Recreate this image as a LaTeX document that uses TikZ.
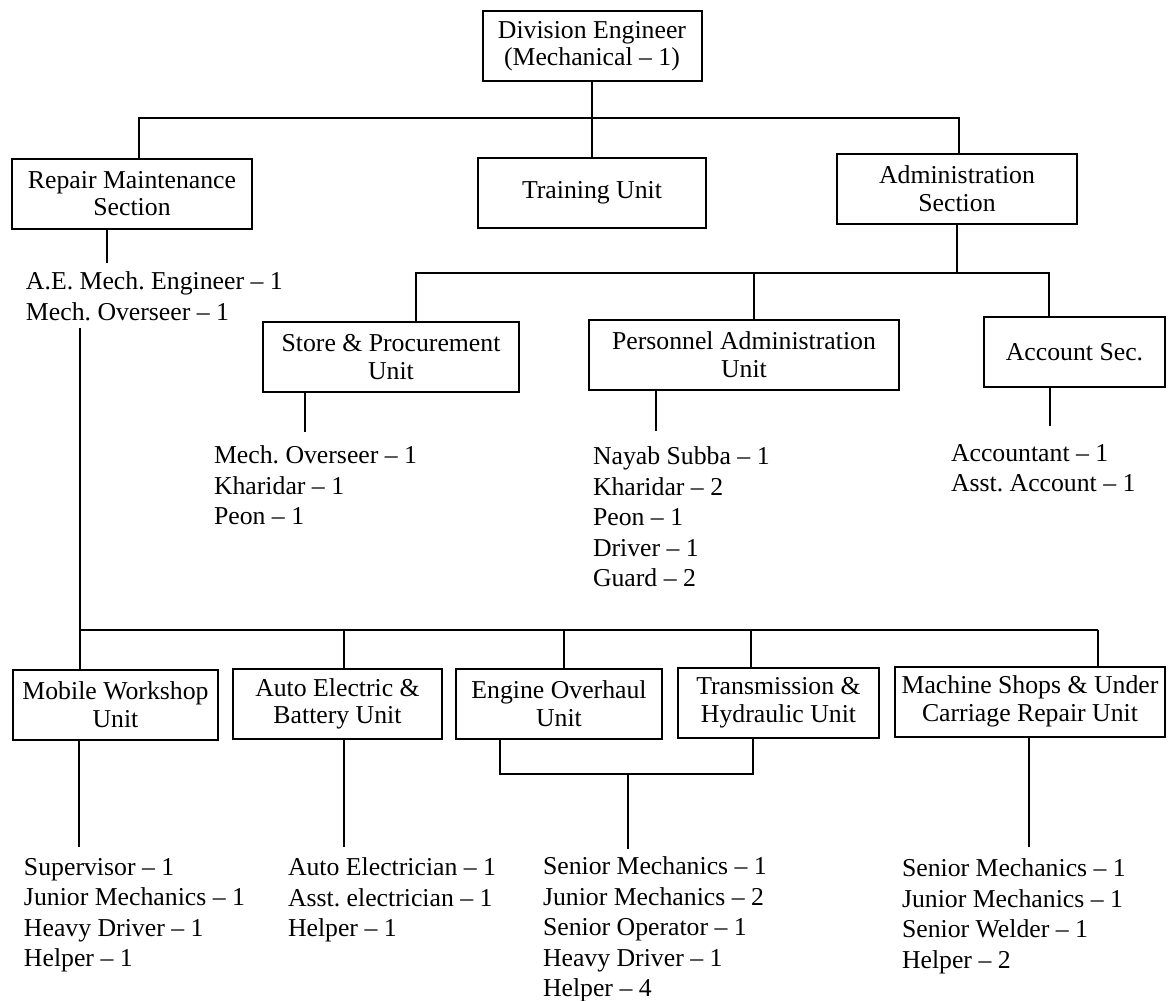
\documentclass[tikz,border=0pt]{standalone}
\usepackage{fontspec}
\setmainfont{Liberation Serif}
\frenchspacing

\newcommand{\boxfont}{\fontsize{10.3}{11}\selectfont}
\newcommand{\listfont}{\fontsize{10.3}{12.2}\selectfont}

\begin{document}
\begin{tikzpicture}[x=0.4pt,y=-0.4pt,thick,
    box/.style={draw,align=center,inner sep=2pt,minimum height=28pt,minimum width=#1,font=\boxfont},
    staff/.style={anchor=north west,align=left,inner sep=0pt,font=\listfont}]
    \useasboundingbox (0,0) rectangle (1169,1001);

    \node[box=87.6pt] (div_eng) at (592,46) {Division Engineer\\(Mechanical -- 1)};
    \node[box=96pt] (repair) at (132,193.5) {Repair Maintenance\\Section};
    \node[box=91.2pt] (training) at (592,192.5) {Training Unit};
    \node[box=96pt] (admin) at (957,188.5) {Administration\\Section};

    \node[box=102.4pt] (store) at (391,357) {Store \& Procurement\\Unit};
    \node[box=124pt] (personnel) at (744,354.5) {Personnel Administration\\Unit};
    \node[box=72.4pt] (account) at (1074.5,352) {Account Sec.};

    \node[box=82pt] (mobile) at (115.5,704.5) {Mobile Workshop\\Unit};
    \node[box=83.6pt] (autoel) at (337.5,704) {Auto Electric \&\\Battery Unit};
    \node[box=82.4pt] (engine) at (559,703.5) {Engine Overhaul\\Unit};
    \node[box=80.4pt] (trans) at (778.5,702.5) {Transmission \&\\Hydraulic Unit};
    \node[box=108pt] (machine) at (1030,701.5) {Machine Shops \& Under\\Carriage Repair Unit};

    \node[staff] (repair_staff) at (25,271) {A.E. Mech. Engineer -- 1\\Mech. Overseer -- 1};
    \node[staff] (store_staff) at (213,445) {Mech. Overseer -- 1\\Kharidar -- 1\\Peon -- 1};
    \node[staff] (personnel_staff) at (592,446) {Nayab Subba -- 1\\Kharidar -- 2\\Peon -- 1\\Driver -- 1\\Guard -- 2};
    \node[staff] (account_staff) at (950,443) {Accountant -- 1\\Asst. Account -- 1};
    \node[staff] (mobile_staff) at (23,857) {Supervisor -- 1\\Junior Mechanics -- 1\\Heavy Driver -- 1\\Helper -- 1};
    \node[staff] (autoel_staff) at (287,857) {Auto Electrician -- 1\\Asst. electrician -- 1\\Helper -- 1};
    \node[staff] (engine_staff) at (542,856) {Senior Mechanics -- 1\\Junior Mechanics -- 2\\Senior Operator -- 1\\Heavy Driver -- 1\\Helper -- 4};
    \node[staff] (machine_staff) at (901,858) {Senior Mechanics -- 1\\Junior Mechanics -- 1\\Senior Welder -- 1\\Helper -- 2};

    % top level
    \coordinate (t_l) at (139,118);
    \coordinate (t_r) at (959,118);
    \draw (div_eng) -- (training);
    \draw (t_l |- repair.north) -- (t_l) -- (t_r) -- (t_r |- admin.north);

    % administration
    \coordinate (a_l) at (416,273);
    \coordinate (a_m) at (754,273);
    \coordinate (a_r) at (1049,273);
    \draw (admin.south) -- (admin.south |- a_l);
    \draw (a_l |- store.north) -- (a_l) -- (a_r) -- (a_r |- account.north);
    \draw (a_m) -- (a_m |- personnel.north);

    \coordinate (r_s) at (107,263);
    \coordinate (s_s) at (305,432);
    \coordinate (p_s) at (656,431);
    \coordinate (c_s) at (1050,426);
    \draw (r_s |- repair.south) -- (r_s);
    \draw (s_s |- store.south) -- (s_s);
    \draw (p_s |- personnel.south) -- (p_s);
    \draw (c_s |- account.south) -- (c_s);

    % repair units
    \coordinate (w_top) at (80,328);
    \coordinate (b_1) at (80,630);
    \coordinate (b_2) at (344,630);
    \coordinate (b_3) at (564,630);
    \coordinate (b_4) at (751,630);
    \coordinate (b_5) at (1098,630);
    \draw (w_top) -- (b_1) -- (b_5);
    \draw (b_1) -- (b_1 |- mobile.north);
    \draw (b_2) -- (b_2 |- autoel.north);
    \draw (b_3) -- (b_3 |- engine.north);
    \draw (b_4) -- (b_4 |- trans.north);
    \draw (b_5) -- (b_5 |- machine.north);

    \coordinate (m_s) at (79,847);
    \coordinate (ae_s) at (344,847);
    \coordinate (e_l) at (500,774);
    \coordinate (e_r) at (753,774);
    \coordinate (e_m) at (628,774);
    \coordinate (e_s) at (628,849);
    \coordinate (mc_s) at (1029,847);
    \draw (m_s |- mobile.south) -- (m_s);
    \draw (ae_s |- autoel.south) -- (ae_s);
    \draw (e_l |- engine.south) -- (e_l) -- (e_r) -- (e_r |- trans.south);
    \draw (e_m) -- (e_s);
    \draw (mc_s |- machine.south) -- (mc_s);
\end{tikzpicture}
\end{document}
